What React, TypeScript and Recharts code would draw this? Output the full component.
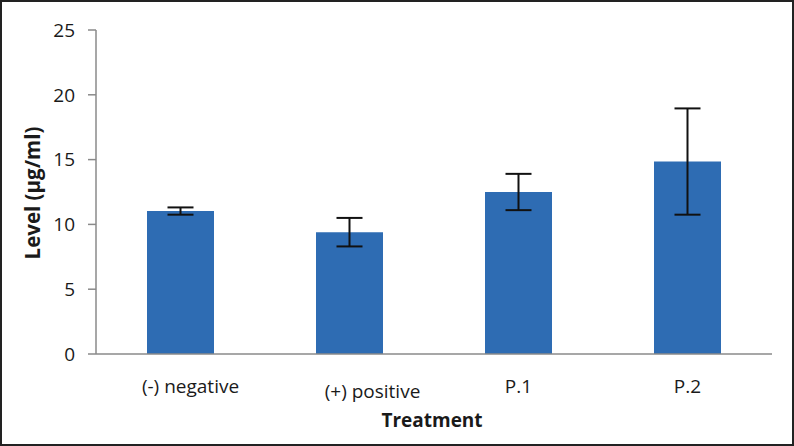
import React from 'react';
import { BarChart, Bar, XAxis, YAxis, ErrorBar, Label } from 'recharts';

const treatments = ['(-) negative', '(+) positive', 'P.1', 'P.2'];
const levels = [11.03, 9.4, 12.5, 14.85];
const errors = [0.28, 1.1, 1.4, 4.1];
const yTicks = [0, 5, 10, 15, 20, 25];

const data = treatments.map((name, i) => ({ name, level: levels[i], err: errors[i] }));

const FONT = '"Open Sans", "Liberation Sans", sans-serif';

// the first two labels sit a bit off-centre in the original
const labelShift: Record<number, [number, number]> = { 0: [10, 0], 1: [23, 5] };

const XTick = ({ x, y, payload, index }: any) => {
  const [dx, dy] = labelShift[index] || [0, 0];
  return (
    <text x={x + dx} y={y + 39 + dy} textAnchor="middle" fontSize={19} fill="#1a1a1a" fontFamily={FONT}>
      {payload.value}
    </text>
  );
};

export default function App() {
  return (
    <div style={{ position: 'absolute', left: 0, top: 0, width: 794, height: 446, background: '#fff' }}>
      <BarChart
        width={794}
        height={446}
        data={data}
        margin={{ top: 30, right: 22, bottom: 62, left: 0 }}
        barSize={67}
      >
        <XAxis
          dataKey="name"
          height={30}
          tickLine={false}
          tickSize={0}
          tickMargin={0}
          axisLine={{ stroke: '#8a8a8a', strokeWidth: 1.5 }}
          tick={<XTick />}
          interval={0}
        >
          <Label
            content={({ viewBox }: any) => (
              <text
                x={viewBox.x + viewBox.width / 2 - 2}
                y={427}
                textAnchor="middle"
                fontSize={19}
                fontWeight="bold"
                fill="#1a1a1a"
                fontFamily={FONT}
              >
                Treatment
              </text>
            )}
          />
        </XAxis>
        <YAxis
          width={96}
          domain={[0, 25]}
          ticks={yTicks}
          interval={0}
          tickSize={8}
          tickMargin={13}
          tickLine={{ stroke: '#8a8a8a', strokeWidth: 1.5 }}
          axisLine={{ stroke: '#8a8a8a', strokeWidth: 1.5 }}
          tick={{ fontSize: 19, fill: '#1a1a1a', fontFamily: FONT }}
        >
          <Label
            content={() => (
              <text
                x={32}
                y={193}
                transform="rotate(-90 32 193)"
                textAnchor="middle"
                dominantBaseline="central"
                fontSize={20.5}
                fontWeight="bold"
                fill="#1a1a1a"
                fontFamily={FONT}
              >
                Level (µg/ml)
              </text>
            )}
          />
        </YAxis>
        <Bar dataKey="level" fill="#2e6cb3" isAnimationActive={false}>
          <ErrorBar dataKey="err" width={13} strokeWidth={2} stroke="#111" isAnimationActive={false} />
        </Bar>
      </BarChart>
      <div
        style={{
          position: 'absolute',
          inset: 0,
          border: '2px solid #222',
          pointerEvents: 'none',
        }}
      />
    </div>
  );
}
